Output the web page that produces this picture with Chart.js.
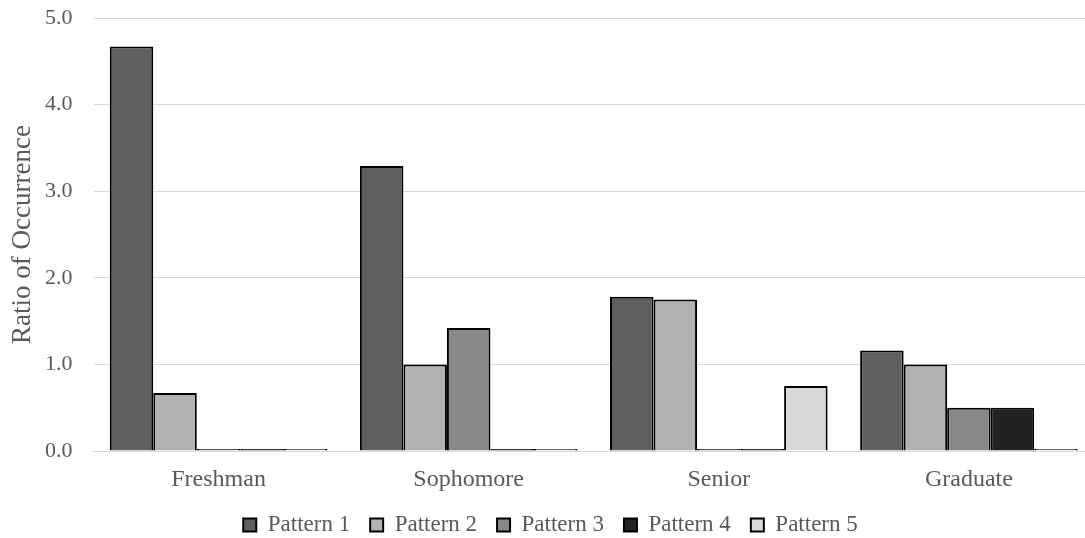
<!DOCTYPE html>
<html>
<head>
<meta charset="utf-8">
<script src="https://cdn.jsdelivr.net/npm/chart.js@4"></script>
<style>
  html, body { margin: 0; padding: 0; background: #fff; overflow: hidden; }
  #wrap { width: 1100px; height: 547px; }
</style>
</head>
<body>
<div id="wrap"><canvas id="myChart" width="1100" height="547"></canvas></div>
<script>
    // categories and values
    const categories = ['Freshman', 'Sophomore', 'Senior', 'Graduate'];
    const pattern1 = [4.67, 3.29, 1.78, 1.16];
    const pattern2 = [0.67, 1.0, 1.75, 1.0];
    const pattern3 = [0, 1.42, 0, 0.5];
    const pattern4 = [0, 0, 0, 0.5];
    const pattern5 = [0, 0, 0.75, 0];
    const yTicks = [0, 1, 2, 3, 4, 5];

    const fillColors = ['#5f5f5f', '#b2b2b2', '#888888', '#222222', '#d9d9d9'];
    const textColor = '#595959';
    const serif = "'Liberation Serif', 'Times New Roman', serif";

    function makeSet(label, data, i) {
        return {
            label: label,
            data: data,
            backgroundColor: fillColors[i],
            borderColor: '#000000',
            borderWidth: 2,
            borderSkipped: 'start',
            minBarLength: 2,
            categoryPercentage: 0.87,
            barPercentage: 1.0
        };
    }

    const ctx = document.getElementById('myChart').getContext('2d');
    new Chart(ctx, {
        type: 'bar',
        data: {
            labels: categories,
            datasets: [
                makeSet('Pattern 1', pattern1, 0),
                makeSet('Pattern 2', pattern2, 1),
                makeSet('Pattern 3', pattern3, 2),
                makeSet('Pattern 4', pattern4, 3),
                makeSet('Pattern 5', pattern5, 4)
            ]
        },
        options: {
            responsive: false,
            animation: false,
            layout: { padding: { top: 18, left: 7, right: 6, bottom: 0.5 } },
            plugins: {
                tooltip: { enabled: false },
                legend: {
                    position: 'bottom',
                    labels: {
                        boxWidth: 13,
                        boxHeight: 13,
                        padding: 20,
                        color: textColor,
                        font: { family: serif, size: 23 }
                    }
                }
            },
            scales: {
                x: {
                    afterFit: scale => { scale.height = 42.5; },
                    grid: { display: false },
                    border: { display: true, color: '#d9d9d9', width: 1 },
                    ticks: {
                        color: textColor,
                        padding: 6,
                        font: { family: serif, size: 24 }
                    }
                },
                y: {
                    min: 0,
                    max: 5,
                    afterBuildTicks: scale => {
                        scale.ticks = yTicks.map(v => ({ value: v }));
                    },
                    afterFit: scale => {
                        scale.width = 86.5;
                        scale.paddingTop = 0;
                        scale.paddingBottom = 0;
                    },
                    grid: { color: '#d9d9d9', lineWidth: 1, drawTicks: false },
                    border: { display: false },
                    ticks: {
                        color: textColor,
                        padding: 21,
                        font: { family: serif, size: 22 },
                        callback: v => v.toFixed(1)
                    },
                    title: {
                        display: true,
                        text: 'Ratio of Occurrence',
                        color: textColor,
                        padding: 0,
                        font: { family: serif, size: 27 }
                    }
                }
            }
        }
    });
</script>
</body>
</html>
